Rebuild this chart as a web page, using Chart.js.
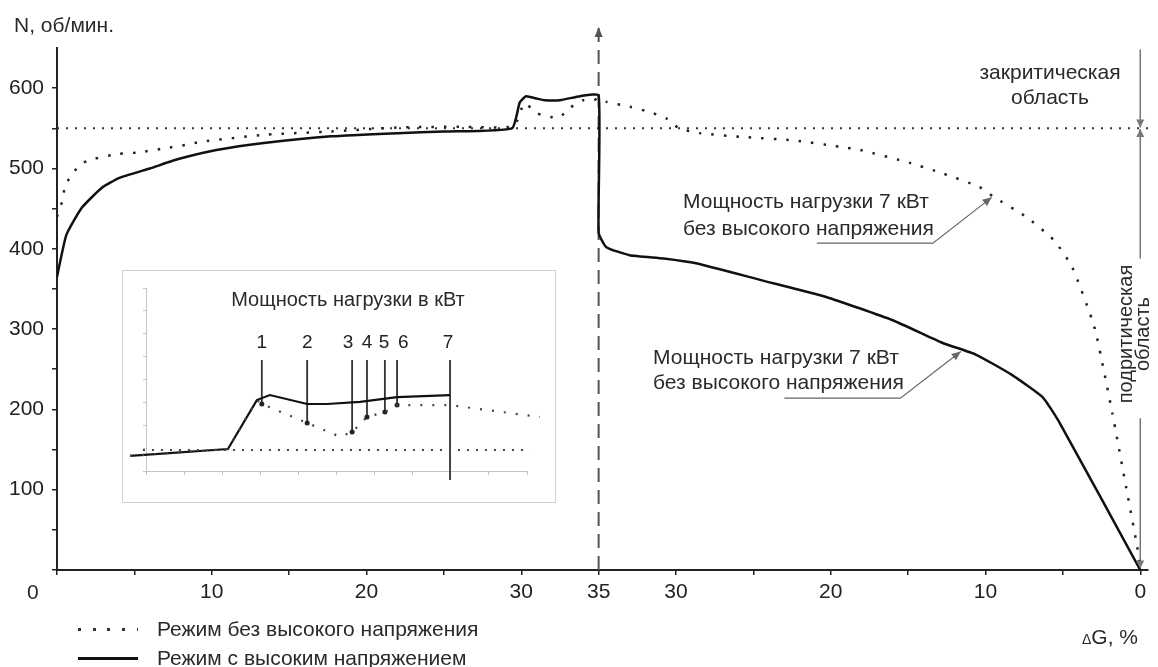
<!DOCTYPE html>
<html lang="ru">
<head>
<meta charset="utf-8">
<title>N(ΔG)</title>
<script src="https://cdn.jsdelivr.net/npm/chart.js@4.4.1/dist/chart.umd.min.js"></script>
<style>
  html, body { margin: 0; padding: 0; background: #fff; }
  body { font-family: "Liberation Sans", Arial, sans-serif; color: #2a2a2a; }
  #wrap { position: relative; width: 1158px; height: 667px; overflow: hidden; }
  #wrap canvas, .lbl, #insetFrame, .swatch { position: absolute; }
  #mainChart { left: 0; top: 0; }
  #insetFrame { left: 122px; top: 270px; width: 434px; height: 233px; box-sizing: border-box;
                border: 1px solid #d0d0d0; background: #fff; }
  #insetChart { left: 122px; top: 270px; }
  .lbl { font-size: 21px; line-height: 26px; white-space: nowrap; }
  .swatch { left: 78px; width: 60px; }
</style>
</head>
<body>
<div id="wrap">
  <canvas id="mainChart" width="1158" height="667"></canvas>
  <div id="insetFrame"></div>
  <canvas id="insetChart" width="434" height="233"></canvas>

  <div class="lbl" style="left:14px; top:12px;">N, об/мин.</div>
  <div class="lbl" style="left:27px; top:579px;">0</div>
  <div class="lbl" style="left:1082px; top:624px;"><span style="font-size:14px">Δ</span>G, %</div>

  <div class="lbl" style="left:970px; top:59px; width:160px; text-align:center; line-height:25px;">закритическая<br>область</div>
  <div class="lbl" style="left:1050px; top:316px; width:170px; height:36px; text-align:center; font-size:20px; line-height:17px; transform:rotate(-90deg);">подритическая<br>область</div>

  <div class="lbl" style="left:683px; top:187px; line-height:27px;">Мощность нагрузки 7 кВт<br>без высокого напряжения</div>
  <div class="lbl" style="left:653px; top:344px; line-height:25px;">Мощность нагрузки 7 кВт<br>без высокого напряжения</div>

  <div class="lbl" style="left:198px; top:286px; width:300px; text-align:center; font-size:20px;">Мощность нагрузки в кВт</div>

  <div class="swatch" style="top:628px; height:3px; background:repeating-linear-gradient(90deg,#333 0 3px,transparent 3px 14.7px);"></div>
  <div class="lbl" style="left:157px; top:616px;">Режим без высокого напряжения</div>
  <div class="swatch" style="top:657px; height:2.5px; background:#111;"></div>
  <div class="lbl" style="left:157px; top:645px;">Режим с высоким напряжением</div>
</div>

<script>
// x axis runs 0 -> 35 -> 0 (ΔG, %): left half is rising ΔG, right half falling ΔG

// without high voltage (dotted)
const lvLeftG  = [0, 0.4, 0.5, 1.0, 1.7, 2.4, 3.9, 5.3, 6.9, 8.5, 9.2, 13.5, 17.7, 22.0, 26.0, 29.5, 30.2, 31.0, 31.9, 32.5, 33.1, 34.0, 34.7, 35];
const lvLeftN  = [440, 463, 477, 494, 507, 512, 518, 520, 525, 530, 533, 542, 546, 551, 552, 553, 581, 569, 564, 564, 575, 585, 585, 588];
const lvRightG = [34.5, 33.0, 31.5, 30.6, 29.8, 28.5, 25.5, 22.4, 19.4, 18.1, 14.9, 12.8, 10.4, 9.5, 7.4, 5.6, 4.4, 3.1, 2.8, 1.8, 1.0, 0.2, 0];
const lvRightN = [583, 577, 569, 562, 550, 544, 539, 535, 527, 523, 507, 494, 477, 465, 440, 411, 377, 311, 290, 195, 112, 29, 0];

// with high voltage (solid)
const hvLeftG  = [0, 0.6, 1.6, 2.9, 4.0, 6.0, 7.9, 10.3, 13.5, 17.7, 22.0, 25.0, 29.4, 29.9, 30.3, 31.0, 31.5, 32.5, 33.8, 35];
const hvLeftN  = [365, 417, 451, 476, 488, 500, 512, 523, 532, 540, 544, 546, 550, 582, 590, 587, 585, 585, 590, 591];
const hvRightG = [35, 34.5, 33.0, 30.8, 28.7, 24.5, 20.3, 16.0, 12.8, 10.6, 8.3, 6.3, 5.2, 0];
const hvRightN = [420, 402, 392, 388, 382, 361, 340, 311, 283, 268, 243, 215, 183, 0];

const critN = 550;
const turnG = 35;

// inset "Мощность нагрузки в кВт" (arbitrary units)
const insetHvX = [-0.42, 2.15, 2.91, 3.25, 4.23, 4.75, 5.62, 6.59, 7.98];
const insetHvY = [0.66, 0.96, 3.10, 3.32, 2.93, 2.93, 3.02, 3.23, 3.32];
const insetLvX = [-0.42, 2.15, 2.91, 3.04, 4.23, 5.09, 5.41, 5.80, 6.27, 6.59, 7.98, 10.34];
const insetLvY = [0.66, 0.96, 3.10, 2.93, 2.10, 1.50, 1.70, 2.36, 2.58, 2.88, 2.88, 2.36];
const insetBaseY = 0.92;
const loadMarks  = ['1', '2', '3', '4', '5', '6', '7'];
const loadMarkX  = [3.04, 4.23, 5.41, 5.80, 6.27, 6.59, 7.98];
const loadMarkY  = [2.93, 2.10, 1.70, 2.36, 2.58, 2.88, -0.39];
const loadLabelX = [3.04, 4.23, 5.30, 5.80, 6.25, 6.75, 7.93];

Chart.defaults.font.family = '"Liberation Sans", Arial, sans-serif';
Chart.defaults.font.size = 21;
Chart.defaults.color = '#222';

const toPts = (gs, ns, right) => gs.map((g, i) => ({ x: right ? 2 * turnG - g : g, y: ns[i] }));

// arrowheads at the ends of annotation lines
const arrowHeads = {
  id: 'arrowHeads',
  afterDatasetsDraw(chart) {
    const ctx = chart.ctx;
    chart.data.datasets.forEach((ds, i) => {
      if (!ds.arrowEnd && !ds.arrowStart) return;
      const pts = chart.getDatasetMeta(i).data;
      const len = ds.arrowLen || 9, half = ds.arrowHalf || 4;
      const draw = (tip, from) => {
        const a = Math.atan2(tip.y - from.y, tip.x - from.x);
        ctx.save();
        ctx.fillStyle = ds.borderColor;
        ctx.beginPath();
        ctx.moveTo(tip.x, tip.y);
        ctx.lineTo(tip.x - len * Math.cos(a) + half * Math.sin(a), tip.y - len * Math.sin(a) - half * Math.cos(a));
        ctx.lineTo(tip.x - len * Math.cos(a) - half * Math.sin(a), tip.y - len * Math.sin(a) + half * Math.cos(a));
        ctx.closePath();
        ctx.fill();
        ctx.restore();
      };
      if (ds.arrowEnd) draw(pts[pts.length - 1], pts[pts.length - 2]);
      if (ds.arrowStart) draw(pts[0], pts[1]);
    });
  }
};

const line = (data, extra) => Object.assign({
  data, borderColor: '#111', borderWidth: 2, pointRadius: 0, tension: 0, fill: false
}, extra);

new Chart(document.getElementById('mainChart'), {
  type: 'line',
  data: {
    datasets: [
      line(toPts(lvLeftG, lvLeftN, false).concat(toPts(lvRightG, lvRightN, true)),
        { borderColor: '#222', borderWidth: 2.5, borderDash: [2.5, 10], tension: 0.2 }),
      line(toPts(hvLeftG, hvLeftN, false).concat(toPts(hvRightG, hvRightN, true)),
        { borderWidth: 2.5, tension: 0.15 }),
      // critical speed line
      line([{ x: 0, y: critN }, { x: 70.5, y: critN }], { borderColor: '#333', borderDash: [2, 7] }),
      // turning point ΔG = 35
      line([{ x: turnG, y: 0 }, { x: turnG, y: 676 }],
        { borderColor: '#555', borderDash: [14, 8], clip: false, arrowEnd: true, arrowLen: 10 }),
      // supercritical / subcritical zone arrows
      line([{ x: 70, y: 648 }, { x: 70, y: critN + 1 }], { borderColor: '#777', borderWidth: 1.5, arrowEnd: true, arrowLen: 8 }),
      line([{ x: 70, y: critN - 1 }, { x: 70, y: 388 }], { borderColor: '#777', borderWidth: 1.5, arrowStart: true, arrowLen: 8 }),
      line([{ x: 70, y: 189 }, { x: 70, y: 2 }], { borderColor: '#777', borderWidth: 1.5, arrowEnd: true, arrowLen: 8 }),
      // leader lines for the notes
      line([{ x: 49.1, y: 407 }, { x: 56.6, y: 407 }, { x: 60.4, y: 464 }], { borderColor: '#666', borderWidth: 1.2, arrowEnd: true }),
      line([{ x: 47.0, y: 214 }, { x: 54.5, y: 214 }, { x: 58.4, y: 272 }], { borderColor: '#666', borderWidth: 1.2, arrowEnd: true })
    ]
  },
  options: {
    responsive: false,
    devicePixelRatio: 1,
    animation: false,
    layout: { padding: { left: 0, top: 48, right: 10, bottom: 0 } },
    plugins: { legend: { display: false }, tooltip: { enabled: false } },
    scales: {
      x: {
        type: 'linear', min: 0, max: 70.5,
        afterFit: (s) => { s.height = 97; },
        border: { color: '#222', width: 2 },
        grid: { drawOnChartArea: false, tickLength: 5, color: '#222', lineWidth: 1.5 },
        ticks: {
          stepSize: 5, includeBounds: false, autoSkip: false, maxRotation: 0, padding: 5,
          callback: (v) => {
            if (v === 0) return '';
            if (v % 10 === 0 || v === turnG) return String(v <= turnG ? v : 2 * turnG - v);
            return '';
          }
        }
      },
      y: {
        type: 'linear', min: 0, max: 650,
        afterFit: (s) => { s.width = 57; },
        border: { color: '#222', width: 2 },
        grid: {
          drawOnChartArea: false, tickLength: 5, lineWidth: 1.5,
          color: (c) => (c.tick && c.tick.value > 600 ? 'rgba(0,0,0,0)' : '#222')
        },
        ticks: {
          stepSize: 50, padding: 8,
          callback: (v) => (v >= 100 && v <= 600 && v % 100 === 0 ? String(v) : '')
        }
      }
    }
  },
  plugins: [arrowHeads]
});

// inset
const markLabels = {
  id: 'markLabels',
  afterDatasetsDraw(chart) {
    const { ctx, scales: { x, y } } = chart;
    ctx.save();
    ctx.font = '19px "Liberation Sans", Arial, sans-serif';
    ctx.fillStyle = '#222';
    ctx.textAlign = 'center';
    ctx.textBaseline = 'middle';
    loadMarks.forEach((t, i) => ctx.fillText(t, x.getPixelForValue(loadLabelX[i]), y.getPixelForValue(5.6)));
    ctx.restore();
  }
};

const markSets = loadMarks.map((m, i) => line(
  [{ x: loadMarkX[i], y: 4.85 }, { x: loadMarkX[i], y: loadMarkY[i] }],
  { borderColor: '#333', borderWidth: 1.8, clip: false,
    pointRadius: i === loadMarks.length - 1 ? 0 : [0, 2.5], pointBackgroundColor: '#222', pointBorderWidth: 0 }
));

new Chart(document.getElementById('insetChart'), {
  type: 'line',
  data: {
    datasets: [
      line([{ x: -0.08, y: insetBaseY }, { x: 10.08, y: insetBaseY }], { borderColor: '#444', borderWidth: 2, borderDash: [2, 7], clip: false }),
      line(insetLvX.map((x, i) => ({ x, y: insetLvY[i] })), { borderColor: '#444', borderWidth: 2.2, borderDash: [2, 10], clip: false }),
      line(insetHvX.map((x, i) => ({ x, y: insetHvY[i] })), { borderColor: '#111', borderWidth: 2.2, clip: false }),
      ...markSets
    ]
  },
  options: {
    responsive: false,
    devicePixelRatio: 1,
    animation: false,
    layout: { padding: { left: 24, right: 29, top: 18, bottom: 32 } },
    plugins: { legend: { display: false }, tooltip: { enabled: false } },
    scales: {
      x: {
        type: 'linear', min: 0, max: 10, position: { y: 0 },
        border: { color: '#c4c4c4', width: 1 },
        grid: { drawOnChartArea: false, tickLength: 3, color: '#c4c4c4' },
        ticks: { display: false, stepSize: 1 }
      },
      y: {
        type: 'linear', min: 0, max: 8, position: { x: 0 },
        border: { color: '#c4c4c4', width: 1 },
        grid: { drawOnChartArea: false, tickLength: 3, color: '#c4c4c4' },
        ticks: { display: false, stepSize: 1 }
      }
    }
  },
  plugins: [markLabels]
});
</script>
</body>
</html>
